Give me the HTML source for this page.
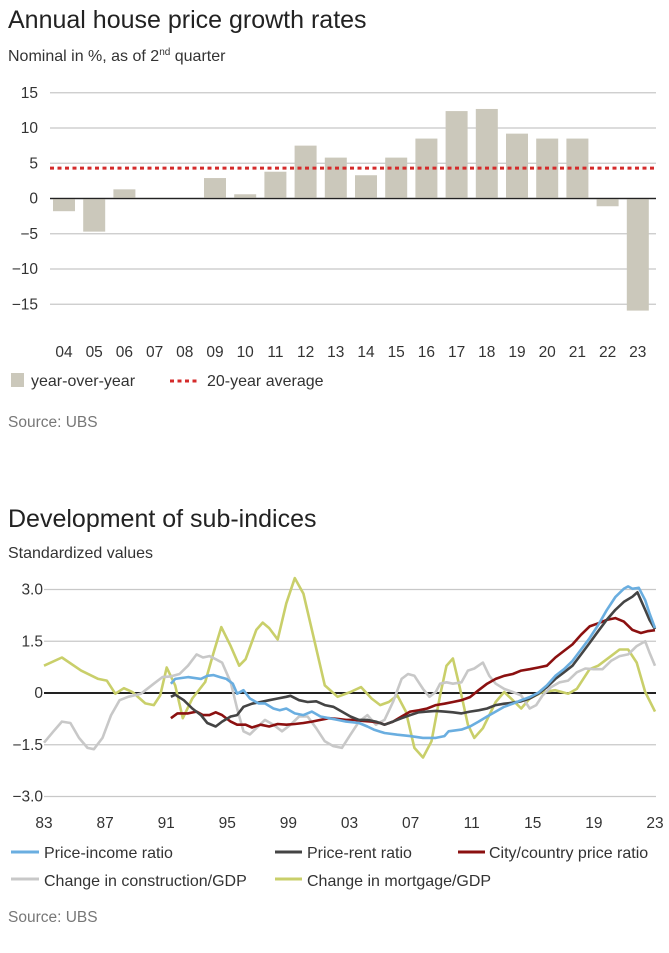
<!DOCTYPE html>
<html><head><meta charset="utf-8">
<style>
body{margin:0;background:#fff;width:669px;height:948px;overflow:hidden;font-family:"Liberation Sans",sans-serif;}
svg text{font-family:"Liberation Sans",sans-serif;}
</style></head>
<body>
<svg id="s" width="669" height="948" viewBox="0 0 669 948">
<text x="8" y="28" font-size="25" fill="#222">Annual house price growth rates</text>
<text x="8" y="61" font-size="16" fill="#333">Nominal in %, as of 2<tspan font-size="10" dy="-6">nd</tspan><tspan dy="6"> quarter</tspan></text>
<g id="c1"></g>
<rect x="11" y="373" width="13" height="14" fill="#cbc8bb"/>
<text x="31" y="386" font-size="16" fill="#333">year-over-year</text>
<line x1="170" y1="381" x2="200" y2="381" stroke="#d42b2b" stroke-width="3" stroke-dasharray="4,3.5"/>
<text x="207" y="386" font-size="16" fill="#333">20-year average</text>
<text x="8" y="427" font-size="15.5" fill="#777">Source: UBS</text>

<text x="8" y="527" font-size="25" fill="#222">Development of sub-indices</text>
<text x="8" y="558" font-size="16" fill="#333">Standardized values</text>
<g id="c2"></g>
<g>
<line x1="11" y1="852" x2="39" y2="852" stroke="#6aaee0" stroke-width="3"/>
<text x="44" y="858" font-size="16" fill="#333">Price-income ratio</text>
<line x1="275" y1="852" x2="302" y2="852" stroke="#444" stroke-width="3"/>
<text x="307" y="858" font-size="16" fill="#333">Price-rent ratio</text>
<line x1="458" y1="852" x2="485" y2="852" stroke="#8b1010" stroke-width="3"/>
<text x="489" y="858" font-size="16" fill="#333">City/country price ratio</text>
<line x1="11" y1="879" x2="39" y2="879" stroke="#c8c8c8" stroke-width="3"/>
<text x="44" y="886" font-size="16" fill="#333">Change in construction/GDP</text>
<line x1="275" y1="879" x2="302" y2="879" stroke="#c9cf6a" stroke-width="3"/>
<text x="307" y="886" font-size="16" fill="#333">Change in mortgage/GDP</text>
</g>
<text x="8" y="922" font-size="15.5" fill="#777">Source: UBS</text>
</svg>
<script>
const barYears=["04","05","06","07","08","09","10","11","12","13","14","15","16","17","18","19","20","21","22","23"];
const barValues=[-1.8,-4.7,1.3,0.1,0,2.9,0.6,3.8,7.5,5.8,3.3,5.8,8.5,12.4,12.7,9.2,8.5,8.5,-1.1,-15.9];
const avgValue=4.3;
const yTicks1=[15,10,5,0,-5,-10,-15];

const xTicks2=[83,87,91,95,99,103,107,111,115,119,123];
const yTicks2=[3.0,1.5,0,-1.5,-3.0];
const incYears=[91.31,91.59,92.43,93.27,93.69,94.10,94.52,94.94,95.36,95.64,96.06,96.48,97.04,97.46,98.02,98.44,98.86,99.42,99.98,100.54,101.10,101.66,102.22,102.78,103.62,104.17,104.59,105.29,106.13,106.97,107.81,108.65,109.21,109.49,110.33,110.89,111.45,112.01,112.57,113.13,113.69,114.24,114.80,115.36,115.92,116.48,117.04,117.60,118.16,118.72,119.28,119.84,120.40,120.96,121.24,121.52,121.94,122.36,122.64,123.0];
const incValues=[0.27,0.41,0.46,0.41,0.50,0.52,0.46,0.41,0.27,-0.02,0.08,-0.16,-0.30,-0.30,-0.45,-0.50,-0.45,-0.59,-0.64,-0.54,-0.68,-0.73,-0.78,-0.83,-0.87,-0.97,-1.06,-1.16,-1.21,-1.25,-1.30,-1.30,-1.25,-1.11,-1.06,-0.97,-0.83,-0.68,-0.54,-0.40,-0.31,-0.21,-0.12,0.01,0.22,0.50,0.69,0.93,1.26,1.59,1.97,2.40,2.78,3.02,3.09,3.02,3.05,2.69,2.31,1.88];
const rentYears=[91.31,91.59,92.15,92.71,93.27,93.69,94.24,94.66,95.22,95.64,96.06,96.62,97.18,97.74,98.30,98.86,99.14,99.70,100.26,100.82,101.38,101.94,102.50,103.06,103.62,104.17,104.73,105.29,105.85,106.41,106.97,107.53,108.09,108.65,109.21,109.77,110.33,110.89,111.45,112.01,112.57,113.13,113.69,114.24,114.80,115.36,115.92,116.48,117.04,117.60,118.16,118.72,119.28,119.84,120.40,120.96,121.52,121.85,122.08,122.36,122.64,123.0];
const rentValues=[-0.11,-0.05,-0.21,-0.45,-0.64,-0.87,-0.97,-0.83,-0.68,-0.64,-0.40,-0.31,-0.26,-0.21,-0.16,-0.11,-0.08,-0.21,-0.26,-0.24,-0.35,-0.40,-0.54,-0.68,-0.78,-0.78,-0.83,-0.92,-0.83,-0.73,-0.64,-0.56,-0.54,-0.52,-0.54,-0.56,-0.59,-0.54,-0.50,-0.45,-0.35,-0.31,-0.28,-0.24,-0.16,-0.02,0.17,0.41,0.60,0.79,1.12,1.45,1.79,2.12,2.41,2.64,2.79,2.92,2.69,2.41,2.12,1.85];
const cityYears=[91.31,91.73,92.43,92.99,93.41,93.83,94.24,94.66,95.22,95.64,96.20,96.62,97.18,97.74,98.30,98.86,99.42,99.98,100.54,101.10,101.66,102.22,102.78,103.34,103.90,104.45,105.01,105.29,105.85,106.41,106.97,107.53,108.09,108.65,109.21,109.77,110.33,110.89,111.45,112.01,112.57,113.13,113.69,114.24,114.80,115.36,115.92,116.48,117.04,117.60,118.16,118.72,119.28,119.84,120.40,120.96,121.52,122.08,122.50,123.0];
const cityValues=[-0.73,-0.59,-0.59,-0.54,-0.64,-0.64,-0.56,-0.64,-0.83,-0.92,-0.92,-1.00,-0.92,-0.97,-0.90,-0.92,-0.90,-0.87,-0.83,-0.78,-0.73,-0.75,-0.78,-0.78,-0.81,-0.83,-0.87,-0.92,-0.83,-0.68,-0.54,-0.50,-0.45,-0.35,-0.31,-0.26,-0.21,-0.12,0.08,0.27,0.41,0.50,0.55,0.65,0.69,0.74,0.79,1.03,1.22,1.41,1.69,1.93,2.02,2.12,2.17,2.07,1.83,1.74,1.79,1.82];
const conYears=[83.0,83.62,84.17,84.73,85.29,85.85,86.27,86.83,87.39,87.95,88.51,89.35,90.19,90.75,91.31,91.87,92.43,92.99,93.41,93.83,94.24,94.66,95.22,95.64,96.06,96.48,96.90,97.46,98.02,98.58,99.14,99.70,100.26,100.82,101.38,101.94,102.50,103.06,103.62,104.17,104.73,105.29,105.85,106.41,106.83,107.25,107.81,108.23,108.65,108.93,109.35,109.77,110.33,110.75,111.17,111.73,112.15,112.57,113.13,113.69,114.24,114.80,115.22,115.64,116.20,116.76,117.32,117.88,118.44,119.00,119.56,120.12,120.68,121.24,121.80,122.36,122.64,123.0];
const conValues=[-1.44,-1.11,-0.83,-0.87,-1.30,-1.59,-1.63,-1.30,-0.64,-0.21,-0.11,-0.02,0.27,0.46,0.48,0.55,0.79,1.12,1.03,1.07,0.98,0.88,0.31,-0.45,-1.11,-1.20,-1.02,-0.78,-0.92,-1.11,-0.92,-0.68,-0.68,-1.02,-1.40,-1.54,-1.59,-1.21,-0.83,-0.64,-0.92,-0.78,-0.26,0.41,0.55,0.50,0.12,-0.11,0.03,0.27,0.31,0.27,0.31,0.65,0.71,0.88,0.50,0.27,0.12,0.03,-0.07,-0.45,-0.35,-0.07,0.17,0.31,0.36,0.60,0.71,0.69,0.69,0.93,1.07,1.12,1.36,1.50,1.17,0.79];
const morYears=[83.0,84.17,85.43,86.55,87.11,87.67,88.23,88.79,89.63,90.19,90.61,91.03,91.59,92.09,92.71,93.55,94.10,94.61,95.22,95.78,96.20,96.90,97.32,97.74,98.30,98.86,99.42,99.98,100.54,101.38,102.22,103.06,103.76,104.45,105.01,105.57,106.13,106.69,107.25,107.81,108.37,108.93,109.35,109.77,110.19,110.75,111.17,111.73,112.57,113.13,113.69,114.24,114.80,115.64,116.48,117.32,117.88,118.72,119.28,120.12,120.68,121.24,121.80,122.36,123.0];
const morValues=[0.79,1.03,0.65,0.41,0.36,-0.02,0.14,0.03,-0.30,-0.35,-0.07,0.74,0.22,-0.73,-0.16,0.32,1.17,1.91,1.36,0.79,0.98,1.83,2.04,1.88,1.55,2.60,3.33,2.88,1.83,0.22,-0.11,0.03,0.17,-0.16,-0.35,-0.26,-0.07,-0.54,-1.59,-1.87,-1.40,-0.07,0.79,1.0,0.22,-0.92,-1.30,-1.02,-0.26,0.03,-0.21,-0.45,-0.16,0.03,0.08,-0.02,0.12,0.69,0.79,1.07,1.26,1.26,0.88,0.03,-0.54];

const NS="http://www.w3.org/2000/svg";
function mk(parent,tag,attrs,txt){const e=document.createElementNS(NS,tag);for(const k in attrs)e.setAttribute(k,attrs[k]);if(txt!==undefined)e.textContent=txt;parent.appendChild(e);return e;}

// Chart 1
const c1=document.getElementById('c1');
const y1=v=>198.5-v*7.05;
const x1=i=>64+i*30.2;
yTicks1.forEach(t=>{
  const g=mk(c1,'line',{x1:50,x2:656,y1:y1(t),y2:y1(t),stroke:t===0?'#222':'#c8c8c8','stroke-width':1.3});
  
  
  const l=mk(c1,'text',{x:38,y:y1(t)+5,'text-anchor':'end','font-size':15.5,fill:'#333'},(t<0?'\u2212'+(-t):t));
  
  
});
barValues.forEach((v,i)=>{
  const r=mk(c1,'rect',{x:x1(i)-11,y:Math.min(y1(v),y1(0)),width:22,height:Math.abs(y1(v)-y1(0)),fill:'#cbc8bb'});
  
  
  const l=mk(c1,'text',{x:x1(i),y:357,'text-anchor':'middle','font-size':15.5,fill:'#333'},barYears[i]);
  
  
});
const z=mk(c1,'line',{x1:50,x2:656,y1:y1(0),y2:y1(0),stroke:'#222','stroke-width':1.3});


const av=mk(c1,'line',{x1:50,x2:656,y1:y1(avgValue),y2:y1(avgValue),stroke:'#d42b2b','stroke-width':3,'stroke-dasharray':'4,3.5'});



// Chart 2
const c2=document.getElementById('c2');
const x2=yr=>44+(yr-83)*15.275;
const y2=v=>693-v*34.5;
yTicks2.forEach(t=>{
  const g=mk(c2,'line',{x1:44,x2:656,y1:y2(t),y2:y2(t),stroke:'#c8c8c8','stroke-width':1.3});
  
  
  const s=t.toFixed(1)==='0.0'?'0':(t<0?'\u2212'+(-t).toFixed(1):t.toFixed(1));
  const l=mk(c2,'text',{x:43,y:y2(t)+5,'text-anchor':'end','font-size':15.5,fill:'#333'},s);
  
  
});
xTicks2.forEach(t=>{
  const l=mk(c2,'text',{x:x2(t),y:828,'text-anchor':'middle','font-size':15.5,fill:'#333'},String(t%100).padStart(2,'0'));
  
  
});
const z2=mk(c2,'line',{x1:44,x2:656,y1:y2(0),y2:y2(0),stroke:'#222','stroke-width':2});


function series(xs,vs,color,name){
  const d=xs.map((x,i)=>(i?'L':'M')+x2(x).toFixed(1)+','+y2(vs[i]).toFixed(1)).join('');
  const p=mk(c2,'path',{d:d,fill:'none',stroke:color,'stroke-width':2.6,'stroke-linejoin':'round'});
  
  
}
series(morYears,morValues,'#c9cf6a','line-mortgage-gdp');
series(conYears,conValues,'#c8c8c8','line-construction-gdp');
series(cityYears,cityValues,'#8b1010','line-city-country');
series(rentYears,rentValues,'#444444','line-price-rent');
series(incYears,incValues,'#6aaee0','line-price-income');
</script>
</body></html>
